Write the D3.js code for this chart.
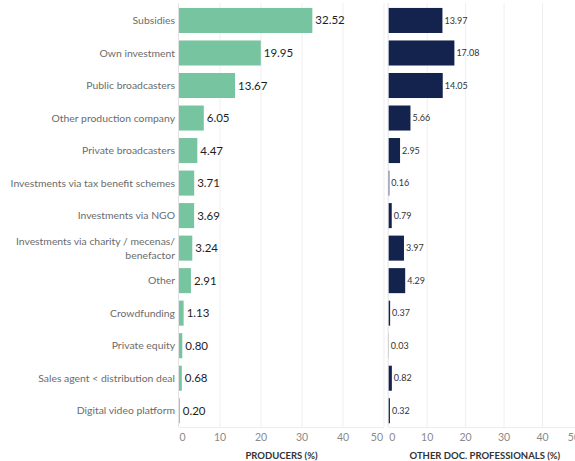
<!DOCTYPE html>
<html>
<head>
<meta charset="utf-8">
<script src="https://cdn.jsdelivr.net/npm/d3@7"></script>
<style>
  html, body { margin: 0; padding: 0; background: #fff; }
  svg { display: block; font-family: Lato, "Open Sans", sans-serif; }
</style>
</head>
<body>
<svg id="chart" width="575" height="461"></svg>
<script>
// Funding sources, in display order
const categories = [
  "Subsidies",
  "Own investment",
  "Public broadcasters",
  "Other production company",
  "Private broadcasters",
  "Investments via tax benefit schemes",
  "Investments via NGO",
  "Investments via charity / mecenas/\nbenefactor",
  "Other",
  "Crowdfunding",
  "Private equity",
  "Sales agent < distribution deal",
  "Digital video platform"
];
const producers = [32.52, 19.95, 13.67, 6.05, 4.47, 3.71, 3.69, 3.24, 2.91, 1.13, 0.80, 0.68, 0.20];
const otherProfessionals = [13.97, 17.08, 14.05, 5.66, 2.95, 0.16, 0.79, 3.97, 4.29, 0.37, 0.03, 0.82, 0.32];
const tickValues = [0, 10, 20, 30, 40, 50];
const panelTitles = ["PRODUCERS (%)", "OTHER DOC. PROFESSIONALS (%)"];

const svg = d3.select("#chart");
const W = 575;

const y = d3.scaleBand()
  .domain(d3.range(categories.length))
  .range([4.2, 427])
  .paddingInner(0.23)
  .paddingOuter(0.115);

const panels = [
  { values: producers, x: d3.scaleLinear().domain([0, 50]).range([179, 384]),
    color: "#77c4a0", labelSize: 11.5, labelWeight: 400, labelColor: "#1e1e1e", labelGap: 3, title: panelTitles[0] },
  { values: otherProfessionals, x: d3.scaleLinear().domain([0, 50]).range([388.7, 581]),
    color: "#13234e", labelSize: 9, labelWeight: 400, labelColor: "#333", labelGap: 2, title: panelTitles[1] }
];

const plotTop = 3, plotBottom = 427;

panels.forEach(p => {
  const g = svg.append("g");
  const [x0, x1] = p.x.range();

  // grid lines
  g.selectAll("line.grid")
    .data(tickValues.filter(v => v > 0))
    .join("line")
    .attr("x1", d => p.x(d)).attr("x2", d => p.x(d))
    .attr("y1", plotTop).attr("y2", plotBottom)
    .attr("stroke", "#efefef").attr("stroke-width", 1);

  // bottom rule
  g.append("line")
    .attr("x1", x0).attr("x2", Math.min(x1, W))
    .attr("y1", plotBottom + 0.5).attr("y2", plotBottom + 0.5)
    .attr("stroke", "#ececec");

  // zero line
  g.append("line")
    .attr("x1", x0 - 0.5).attr("x2", x0 - 0.5)
    .attr("y1", plotTop).attr("y2", plotBottom)
    .attr("stroke", "#e2e2e2");

  // bars
  g.selectAll("rect.bar")
    .data(p.values)
    .join("rect")
    .attr("x", p.x(0))
    .attr("y", (d, i) => y(i))
    .attr("width", d => p.x(d) - p.x(0))
    .attr("height", y.bandwidth())
    .attr("fill", p.color);

  // value labels
  g.selectAll("text.val")
    .data(p.values)
    .join("text")
    .attr("x", d => p.x(d) + p.labelGap)
    .attr("y", (d, i) => y(i) + y.bandwidth() / 2)
    .attr("dy", "0.35em")
    .attr("font-size", p.labelSize)
    .attr("font-weight", p.labelWeight)
    .attr("fill", p.labelColor)
    .text(d => d.toFixed(2));

  // tick labels, kept inside the pane
  g.selectAll("text.tick")
    .data(tickValues)
    .join("text")
    .attr("y", 441)
    .attr("text-anchor", "middle")
    .attr("font-size", 10.5)
    .attr("fill", "#8a8a8a")
    .text(d => d)
    .attr("x", function(d) {
      const w = this.getComputedTextLength();
      return Math.max(x0 + w / 2 + 0.5, Math.min(x1 - w / 2 - 1, p.x(d)));
    });

  // pane title
  g.append("text")
    .attr("x", (x0 + x1) / 2)
    .attr("y", 459)
    .attr("text-anchor", "middle")
    .attr("font-size", 9.5)
    .attr("font-weight", 700)
    .attr("fill", "#333")
    .text(p.title);
});

// category labels
const cat = svg.append("g");
categories.forEach((c, i) => {
  const lines = c.split("\n");
  const cy = y(i) + y.bandwidth() / 2;
  const lh = 14;
  lines.forEach((ln, k) => {
    cat.append("text")
      .attr("x", 175)
      .attr("y", cy + (k - (lines.length - 1) / 2) * lh)
      .attr("dy", "0.35em")
      .attr("text-anchor", "end")
      .attr("font-size", 10.4)
      .attr("fill", "#6b6b6b")
      .text(ln);
  });
});
</script>
</body>
</html>
